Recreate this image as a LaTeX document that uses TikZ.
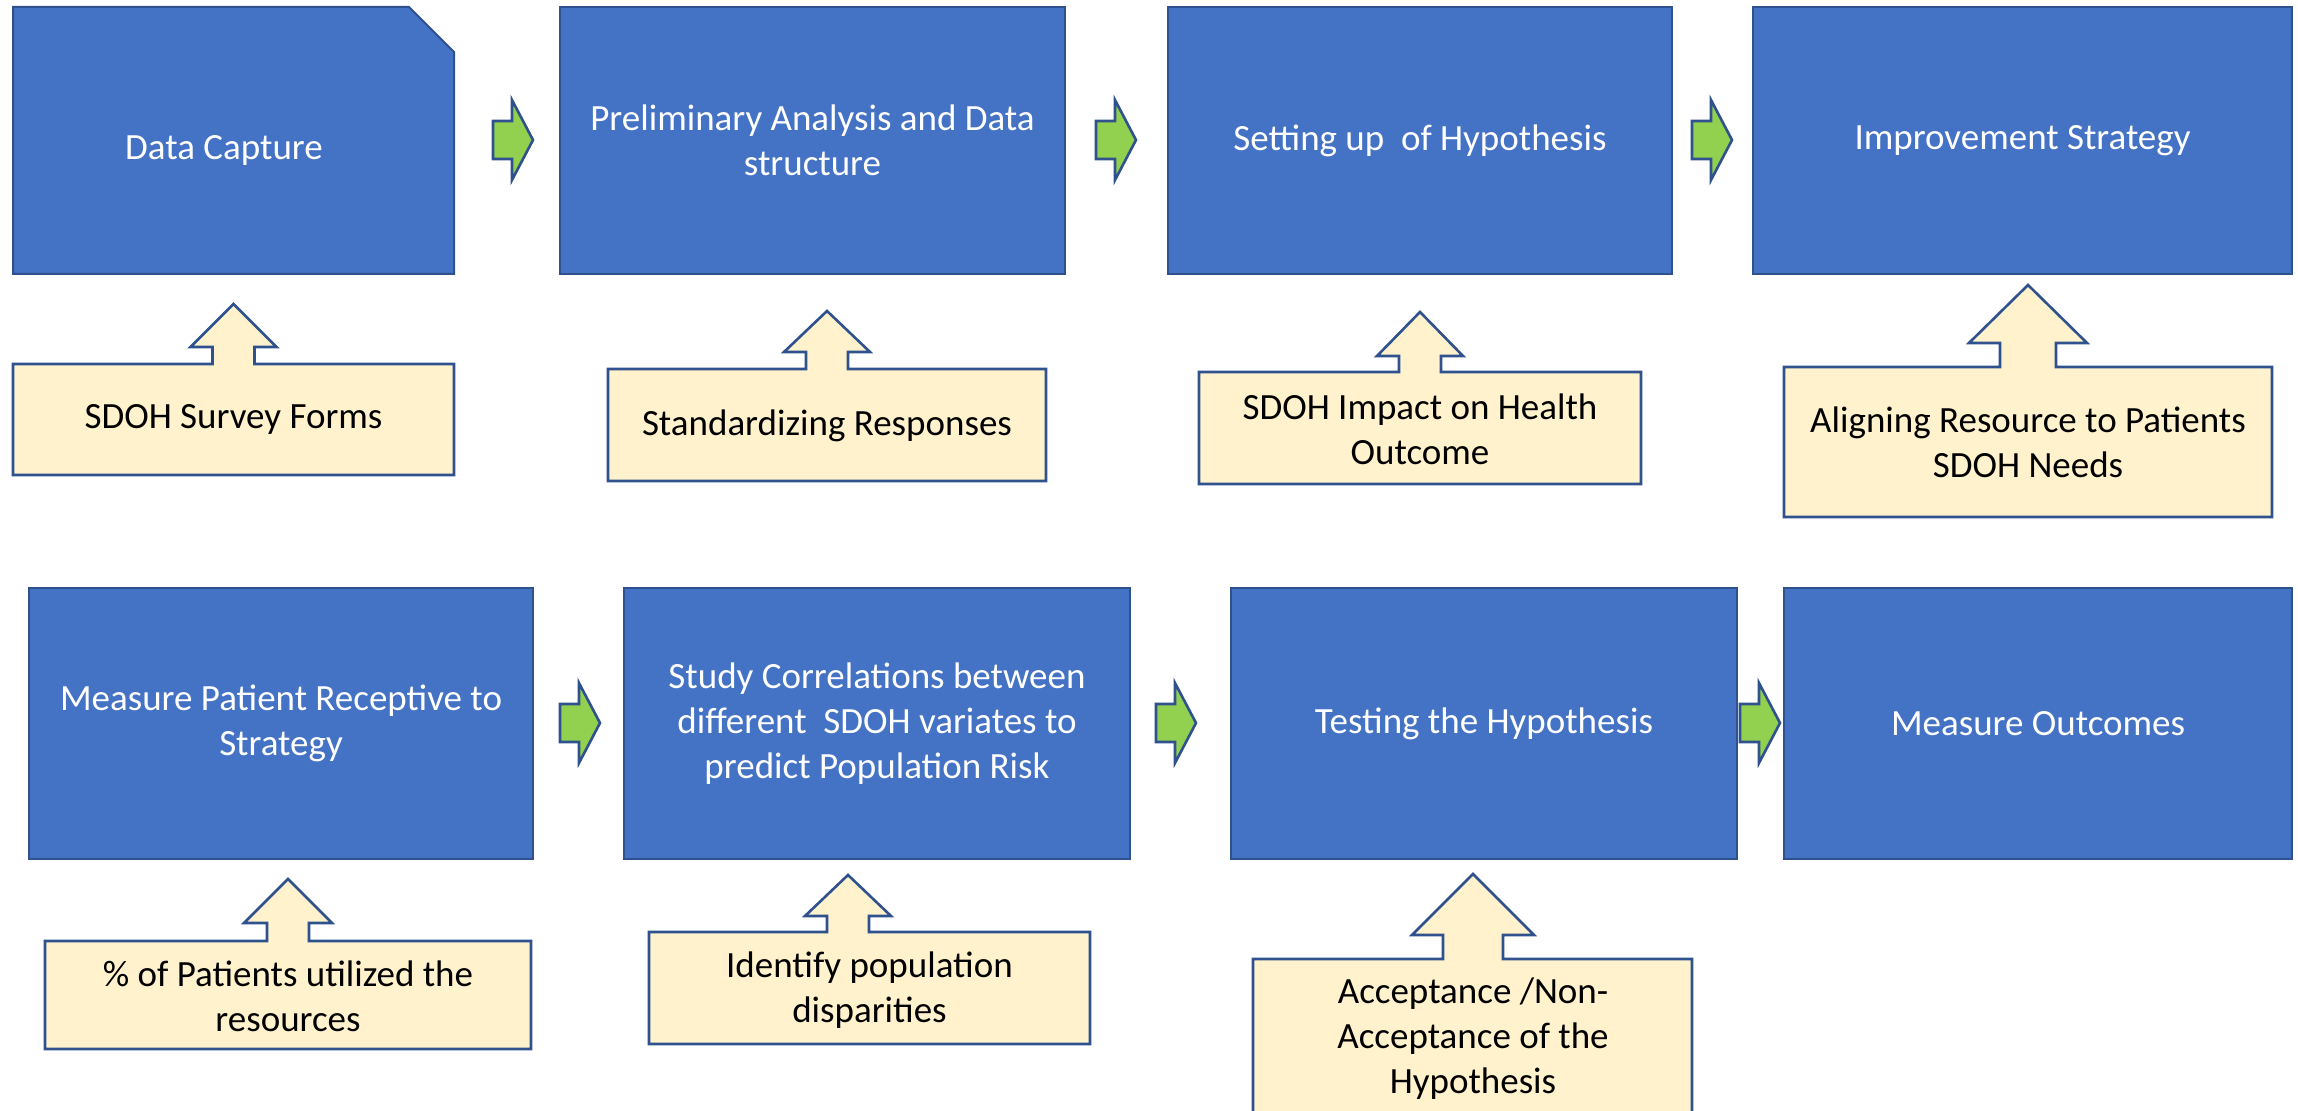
\documentclass[tikz,border=0pt]{standalone}
\usepackage{fontspec}
\setmainfont{Carlito}
\usetikzlibrary{calc}
\definecolor{boxblue}{HTML}{4472C4}
\definecolor{edgeblue}{HTML}{2F528F}
\definecolor{calloutfill}{HTML}{FFF2CC}
\definecolor{arrowgreen}{HTML}{92D050}
\newcommand\upcallout[9]{%
  \draw[callbox] (#1,#3) -- ({#5-#9},#3) -- ({#5-#9},#7) -- ({#5-#8},#7) -- (#5,#6)
    -- ({#5+#8},#7) -- ({#5+#9},#7) -- ({#5+#9},#3) -- (#2,#3) -- (#2,#4) -- (#1,#4) -- cycle;}
\begin{document}
\begin{tikzpicture}[x=0.5pt,y=-0.5pt,
  font=\fontsize{18.5}{22.5}\selectfont,
  stepbox/.style={draw=edgeblue, line width=1pt, fill=boxblue, inner sep=0pt, text=white, align=center},
  snipbox/.style={draw=edgeblue, line width=1pt, fill=boxblue, line join=miter},
  callbox/.style={draw=edgeblue, line width=1.3pt, fill=calloutfill, line join=miter},
  flowarrow/.style={draw=edgeblue, line width=1.3pt, fill=arrowgreen, line join=miter},
  steptext/.style={text=white, align=center, inner sep=0pt},
  lbl/.style={text=black, align=center, inner sep=0pt},
  garrow/.pic={\draw[flowarrow] (-20,-19) -- (-1,-19) -- (-1,-40) -- (20,0) -- (-1,40) -- (-1,19) -- (-20,19) -- cycle;}
]
\useasboundingbox (0,0) rectangle (2298,1111);
\clip (0,0) rectangle (2298,1111);

% ---- row 1 process boxes
\draw[snipbox] (13,7) -- (409,7) -- (454,52) -- (454,274) -- (13,274) -- cycle;
\node[steptext] (b1) at (224,150) {Data Capture};
\node[stepbox, minimum width=252.5pt, minimum height=133.5pt] (b2) at (812.5,140.5) {Preliminary Analysis and Data\\structure};
\node[stepbox, minimum width=252pt, minimum height=133.5pt] (b3) at (1420,140.5) {Setting up~~of Hypothesis};
\node[stepbox, minimum width=269.5pt, minimum height=133.5pt] (b4) at (2022.5,140.5) {Improvement Strategy};

% ---- row 2 process boxes
\node[stepbox, minimum width=252pt, minimum height=135.5pt] (c1) at (281,723.5) {Measure Patient Receptive to\\Strategy};
\node[stepbox, minimum width=253pt, minimum height=135.5pt] (c2) at (877,723.5) {Study Correlations between\\different~~SDOH variates to\\predict Population Risk};
\node[stepbox, minimum width=253pt, minimum height=135.5pt] (c3) at (1484,723.5) {Testing the Hypothesis};
\node[stepbox, minimum width=254pt, minimum height=135.5pt] (c4) at (2038,723.5) {Measure Outcomes};

% ---- green block arrows
\pic at (513,140) {garrow};
\pic at (1116,140) {garrow};
\pic at (1712,140) {garrow};
\pic at (580,723) {garrow};
\pic at (1176,723) {garrow};
\pic at (1760,723) {garrow};

% ---- callouts row 1
\upcallout{13}{454}{364}{475}{233.5}{304}{347}{43}{21}
\node[lbl] (ca1) at (233.5,419.5) {SDOH Survey Forms};
\upcallout{608}{1046}{369}{481}{827}{311}{352}{43}{21}
\node[lbl] (ca2) at (827,426) {Standardizing Responses};
\upcallout{1199}{1641}{372}{484}{1420}{312}{356}{43}{21}
\node[lbl] (ca3) at (1420,429) {SDOH Impact on Health\\Outcome};
\upcallout{1784}{2272}{367}{517}{2028}{285}{343}{59}{28}
\node[lbl] (ca4) at (2028,442) {Aligning Resource to Patients\\SDOH Needs};

% ---- callouts row 2
\upcallout{45}{531}{941}{1049}{288}{879}{923}{44}{21}
\node[lbl] (cb1) at (288,996) {\% of Patients utilized the\\resources};
\upcallout{649}{1090}{932}{1044}{848}{875}{916}{43}{21}
\node[lbl] (cb2) at (869.5,990) {Identify population\\disparities};
\upcallout{1253}{1692}{959}{1119}{1473}{874}{935}{61}{30}
\node[lbl] (cb3) at (1473,1039) {Acceptance /Non-\\Acceptance of the\\Hypothesis};
\end{tikzpicture}
\end{document}
